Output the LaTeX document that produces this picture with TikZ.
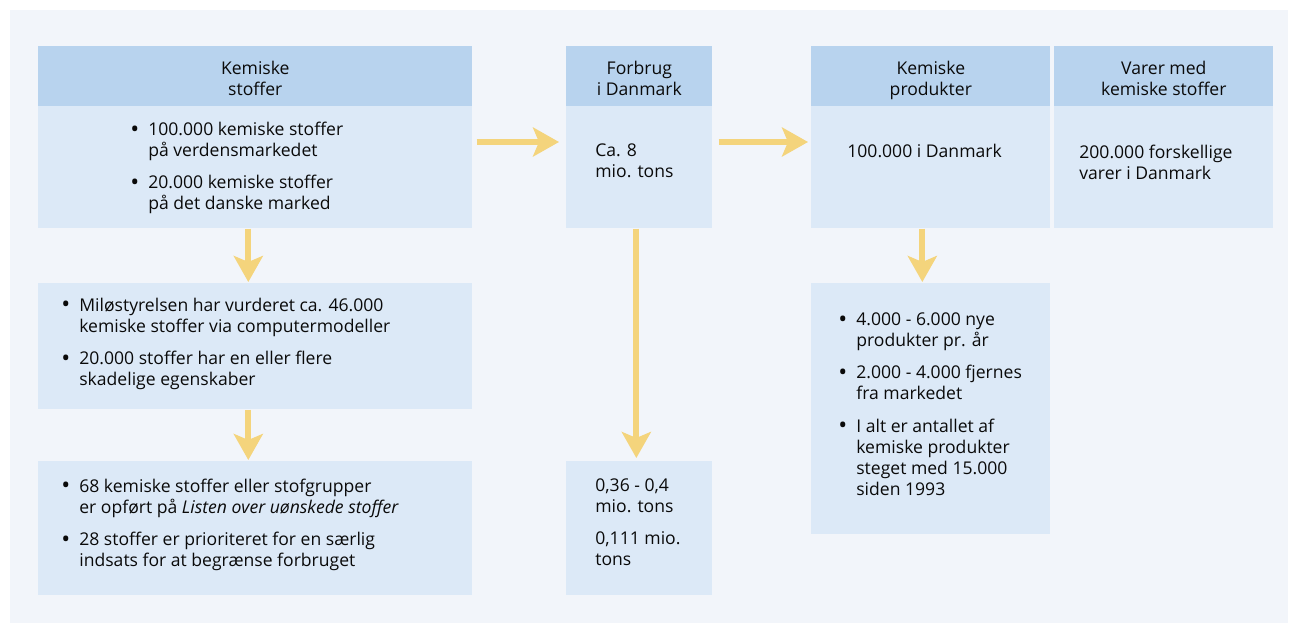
\documentclass[tikz,border=0pt]{standalone}
\usepackage{fontspec}
\setmainfont{Open Sans}
\usetikzlibrary{arrows.meta}

\definecolor{panel}{RGB}{242,245,250}
\definecolor{headblue}{RGB}{184,211,238}
\definecolor{bodyblue}{RGB}{220,233,247}
\definecolor{flowyellow}{RGB}{244,212,124}
\definecolor{ink}{RGB}{10,10,10}

% bullet with a fixed indent
\newcommand{\pkt}{\makebox[0.36cm][l]{\raisebox{-0.2ex}{\scalebox{1.35}{\textbullet}}}}

\begin{document}
\begin{tikzpicture}[x=0.02cm, y=-0.02cm,
  every node/.style={font=\fontsize{10}{12}\selectfont, text=ink, inner sep=0pt},
  head/.style={fill=headblue, anchor=north west, minimum height=1.2cm, align=center,
    text height=21.6pt, text depth=0pt},
  body/.style={fill=bodyblue, anchor=north west},
  txt/.style={anchor=base west, align=left},
  flow/.style={draw=flowyellow, line width=0.12cm, -{Stealth[length=0.52cm, width=0.58cm, inset=0.12cm]}}]
  \useasboundingbox (0,0) rectangle (1298,623);
  \fill[panel] (10,10) rectangle (1288,623);

  % column 1: substances
  \node[head, minimum width=8.68cm] (stofhead) at (38,46) {Kemiske\\stoffer};
  \node[body, minimum width=8.68cm, minimum height=2.44cm] (stofbody) at (38,106) {};
  \node[body, minimum width=8.68cm, minimum height=2.52cm] (vurd) at (38,283) {};
  \node[body, minimum width=8.68cm, minimum height=2.68cm] (liste) at (38,461) {};

  % column 2: consumption
  \node[head, minimum width=2.92cm] (fbrhead) at (566,46) {Forbrug\\i Danmark};
  \node[body, minimum width=2.92cm, minimum height=2.44cm] (fbrbody) at (566,106) {};
  \node[body, minimum width=2.92cm, minimum height=2.68cm] (fbrtons) at (566,461) {};

  % column 3 and 4: products and goods
  \node[head, minimum width=4.78cm] (prodhead) at (811,46) {Kemiske\\produkter};
  \node[body, minimum width=4.78cm, minimum height=2.44cm] (prodbody) at (811,106) {};
  \node[body, minimum width=4.78cm, minimum height=5.02cm] (prodtal) at (811,283) {};
  \node[head, minimum width=4.38cm] (varehead) at (1054,46) {Varer med\\kemiske stoffer};
  \node[body, minimum width=4.38cm, minimum height=2.44cm] (varebody) at (1054,106) {};

  % texts
  \node[txt] (stoftxt) at (130,135.5) {\begin{tabular}[t]{@{}l@{}l@{}}
    \pkt & 100.000 kemiske stoffer\\ & på verdensmarkedet\\[0.22cm]
    \pkt & 20.000 kemiske stoffer\\ & på det danske marked\end{tabular}};
  \node[txt] (vurdtxt) at (61,311) {\begin{tabular}[t]{@{}l@{}l@{}}
    \pkt & Miløstyrelsen har vurderet ca. 46.000\\ & kemiske stoffer via computermodeller\\[0.22cm]
    \pkt & 20.000 stoffer har en eller flere\\ & skadelige egenskaber\end{tabular}};
  \node[txt] (listetxt) at (61,492) {\begin{tabular}[t]{@{}l@{}l@{}}
    \pkt & 68 kemiske stoffer eller stofgrupper\\ & er opført på \textit{Listen over uønskede stoffer}\\[0.22cm]
    \pkt & 28 stoffer er prioriteret for en særlig\\ & indsats for at begrænse forbruget\end{tabular}};
  \node[txt] (fbrtxt) at (595,156) {\begin{tabular}[t]{@{}l@{}}Ca. 8\\mio. tons\end{tabular}};
  \node[txt] (tonstxt) at (595,491) {\begin{tabular}[t]{@{}l@{}}0,36 - 0,4\\mio. tons\\[0.22cm]
    0,111 mio.\\tons\end{tabular}};
  \node[txt] (prodtxt) at (847,157) {100.000 i Danmark};
  \node[txt] (taltxt) at (838,325.7) {\begin{tabular}[t]{@{}l@{}l@{}}
    \pkt & 4.000 - 6.000 nye\\ & produkter pr. år\\[0.22cm]
    \pkt & 2.000 - 4.000 fjernes\\ & fra markedet\\[0.22cm]
    \pkt & I alt er antallet af\\ & kemiske produkter\\ & steget med 15.000\\ & siden 1993\end{tabular}};
  \node[txt] (varetxt) at (1079,158) {\begin{tabular}[t]{@{}l@{}}200.000 forskellige\\varer i Danmark\end{tabular}};

  % arrows
  \draw[flow] ([xshift=0.08cm, yshift=-0.72cm]stofbody.north east) -- ([xshift=-0.14cm, yshift=-0.72cm]fbrbody.north west);
  \draw[flow] ([xshift=0.12cm, yshift=-0.72cm]fbrbody.north east) -- ([xshift=-0.06cm, yshift=-0.72cm]prodbody.north west);
  \draw[flow] ([xshift=-0.14cm]stofbody.south) -- ([xshift=-0.14cm, yshift=0.02cm]vurd.north);
  \draw[flow] ([xshift=-0.14cm]vurd.south) -- ([xshift=-0.14cm, yshift=0.02cm]liste.north);
  \draw[flow] ([xshift=-0.06cm]fbrbody.south) -- ([xshift=-0.06cm, yshift=0.06cm]fbrtons.north);
  \draw[flow] ([xshift=-0.17cm]prodbody.south) -- ([xshift=-0.17cm, yshift=0.02cm]prodtal.north);
\end{tikzpicture}
\end{document}
